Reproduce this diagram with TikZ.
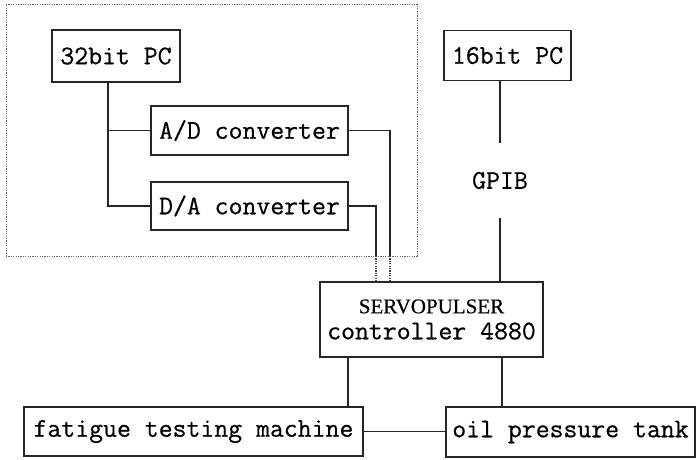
\documentclass[tikz,border=0pt]{standalone}
\usepackage{fontspec}
\newfontfamily\boxfont[FakeBold=0.6]{Latin Modern Mono}
\newfontfamily\servofont[FakeBold=0.4]{Liberation Serif}
\begin{document}
\begin{tikzpicture}[x=1pt,y=-1pt,
  box/.style={draw=black!85, line width=1.35pt, inner sep=0pt, align=center,
    font=\fontsize{27}{23}\selectfont\boxfont},
  wire/.style={draw=black!85, line width=1.35pt},
  dwire/.style={draw=black!75, line width=1.2pt, dash pattern=on 1.2pt off 1.2pt},
  group/.style={draw=black!60, line width=0.9pt, dash pattern=on 1.2pt off 1.2pt, inner sep=0pt},
  lbl/.style={inner sep=0pt, font=\fontsize{27}{23}\selectfont\boxfont}]
\useasboundingbox (0,0) rectangle (696,460);
% dotted group frame
\node[group, minimum width=411pt, minimum height=252pt] (grp) at (211.5,130) {};
% boxes
\node[box, minimum width=128pt, minimum height=52pt] (pc32) at (116,56) {32bit PC};
\node[box, minimum width=197pt, minimum height=49pt] (ad) at (249.5,130.5) {A/D converter};
\node[box, minimum width=197pt, minimum height=48pt] (da) at (249.5,206) {D/A converter};
\node[box, minimum width=127pt, minimum height=50pt] (pc16) at (507.5,55.5) {16bit PC};
\node[lbl, minimum height=75pt] (gpib) at (500,180.5) {GPIB};
\node[box, minimum width=223pt, minimum height=75pt] (servo) at (431.5,319.5)
  {{\servofont\fontsize{21}{23}\selectfont SERVOPULSER}\\[3pt]controller 4880};
\node[box, minimum width=339pt, minimum height=49pt] (fat) at (193.5,431.5) {fatigue testing machine};
\node[box, minimum width=249pt, minimum height=50pt] (oil) at (570.5,432) {oil pressure tank};
% helper coordinates
\coordinate (trunk) at (108,0);
\coordinate (adx) at (390,256);
\coordinate (dax) at (376,256);
\coordinate (fx) at (348,0);
\coordinate (ox) at (502,0);
% connectors
\draw[wire] (pc32.south -| trunk) |- (da.west);
\draw[wire] (trunk |- ad.west) -- (ad.west);
\draw[wire] (ad.east) -| (adx);
\draw[dwire] (adx) -- (adx |- servo.north);
\draw[wire] (da.east) -| (dax);
\draw[dwire] (dax) -- (dax |- servo.north);
\draw[wire] (pc16.south -| gpib) -- (gpib.north);
\draw[wire] (gpib.south) -- (gpib.south |- servo.north);
\draw[wire] (servo.south -| fx) -- (fx |- fat.north);
\draw[wire] (servo.south -| ox) -- (ox |- oil.north);
\draw[wire] (fat.east) -- (fat.east -| oil.west);
\end{tikzpicture}
\end{document}
